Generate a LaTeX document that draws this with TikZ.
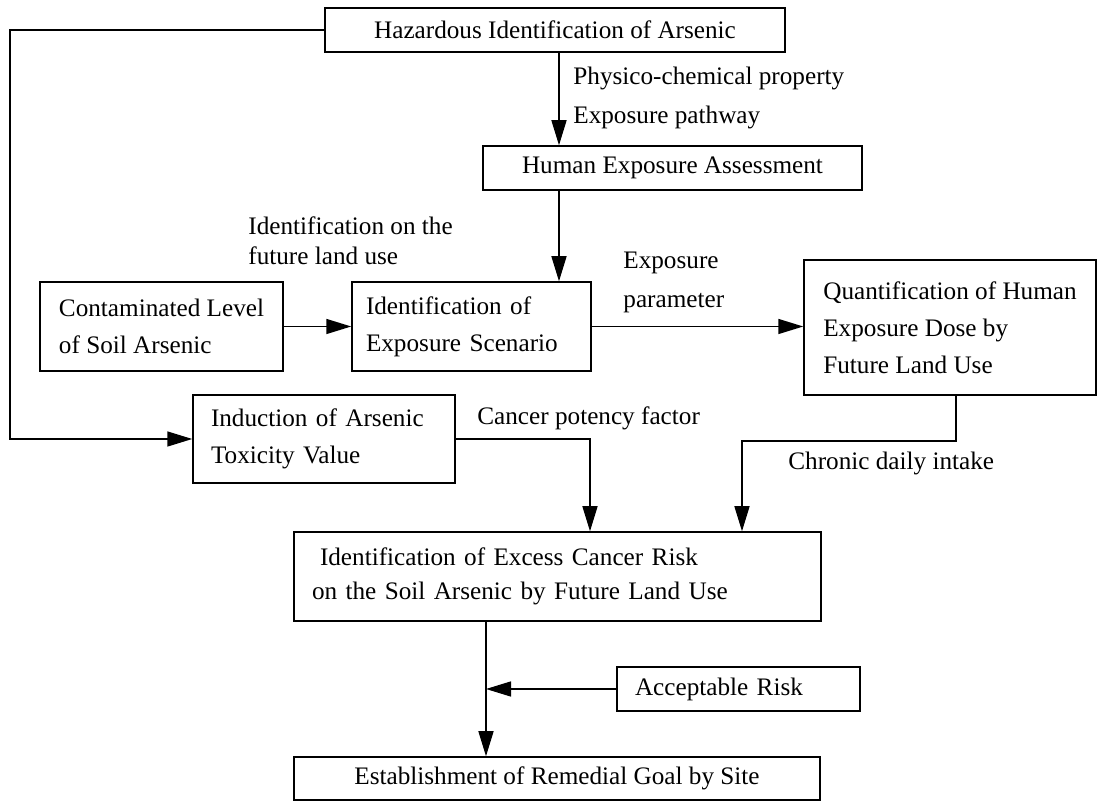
\documentclass[tikz,border=0pt]{standalone}
\usepackage{fontspec}
\setmainfont{Liberation Serif}
\usetikzlibrary{arrows.meta}

\tikzset{
	arr/.style={-{Triangle[length=12.5pt,width=7.5pt]}, line width=0.75pt},
	blk/.style={draw, line width=0.75pt, inner xsep=7pt, inner ysep=0pt, align=left},
	cblk/.style={draw, line width=0.75pt, inner sep=0pt, align=center},
	lbl/.style={inner sep=0pt, anchor=west, align=left}
}

\begin{document}
\begin{tikzpicture}[x=0.5pt, y=-0.5pt, font=\fontsize{12.6}{18.5}\selectfont]
			%%%%% START %%%%%
			\useasboundingbox (0,0) rectangle (1100,801);
			
			% boxes
			\node[cblk, minimum width=230pt, minimum height=22pt] (haz) at (555,30) {Hazardous Identification of Arsenic};
			\node[cblk, minimum width=189.5pt, minimum height=22pt] (human) at (672.5,168) {Human Exposure Assessment};
			
			\node[blk, minimum width=121.5pt, minimum height=44.5pt] (contam) at (161.5,326.5) {Contaminated Level\\of Soil Arsenic};
			\node[blk, text width=105.5pt, minimum height=44.5pt] (scen) at (471.5,326.5) {Identification of\\Exposure Scenario};
			\node[blk, minimum width=146pt, minimum height=67.5pt] (quant) at (950,327.5) {Quantification of Human\\Exposure Dose by\\Future Land Use};
			
			\node[blk, inner xsep=9pt, text width=113pt, minimum height=44pt] (induct) at (324,439) {Induction of Arsenic\\Toxicity Value};
			\node[blk, inner xsep=9pt, text width=245.5pt, minimum height=44.5pt] (excess) at (557.5,576.5) {\hspace*{4pt}Identification of Excess Cancer Risk\\[-1.5pt]on the Soil Arsenic by Future Land Use};
			
			\node[blk, inner xsep=9pt, text width=103.5pt, minimum height=22pt] (accept) at (738.5,689) {Acceptable Risk};
			\node[cblk, minimum width=263pt, minimum height=21.5pt] (estab) at (557,778.5) {Establishment of Remedial Goal by Site};
			
			% labels
			\node[lbl] (physico) at (573,97.5) {Physico-chemical property\\[1pt]Exposure pathway};
			\node[lbl] (landuse) at (248,241) {Identification on the\\[-3.5pt]future land use};
			\node[lbl] (param) at (623,282) {Exposure\\[1pt]parameter};
			\node[lbl] (cpf) at (477,418) {Cancer potency factor};
			\node[lbl] (cdi) at (788,463) {Chronic daily intake};
			
			% bends
			\coordinate (bend) at (10,30);
			\coordinate (spine) at (559,0);
			\coordinate (cpfx) at (590,441);
			\coordinate (cdiA) at (956,441);
			\coordinate (cdiB) at (742,441);
			\coordinate (goal) at (486,689);
			
			% arrows
			\draw[arr] (haz.west) -- (bend) |- (induct.west);
			\draw[arr] (spine |- haz.south) -- (spine |- human.north);
			\draw[arr] (spine |- human.south) -- (spine |- scen.north);
			\draw[arr] (contam) -- (scen);
			\draw[arr] (scen) -- (scen -| quant.west);
			\draw[arr] (induct.east) -| (cpfx |- excess.north);
			\draw[arr] (cdiA |- quant.south) -- (cdiA) -- (cdiB) -- (cdiB |- excess.north);
			\draw[arr] (goal |- excess.south) -- (goal |- estab.north);
			\draw[arr] (accept) -- (goal);
			%%%%% END %%%%%
\end{tikzpicture}
\end{document}
